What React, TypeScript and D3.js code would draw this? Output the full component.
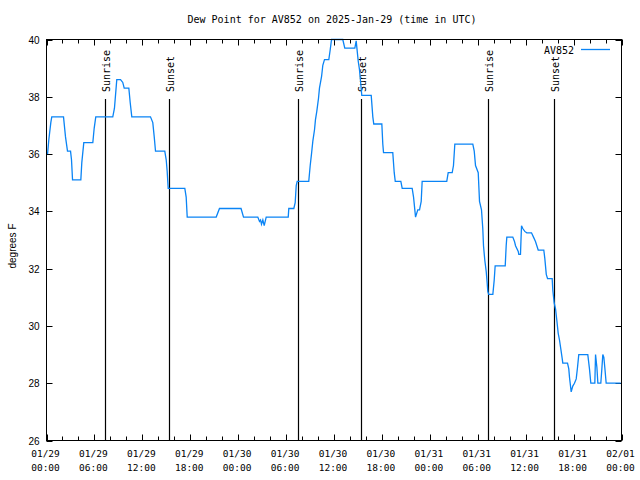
import React from "react";
import * as d3 from "d3";

// Data: hours after 2025-01-29 00:00 UTC, dew point in °F
const hours: number[] = [
  0.13, 0.29, 0.54, 0.66, 2.13, 2.38, 2.63, 3.01, 3.13, 3.26, 4.3, 4.42, 4.67, 5.8, 5.97, 6.17,
  8.3, 8.51, 8.8, 9.27, 9.55, 9.73, 10.31, 10.48, 10.68, 13.02, 13.31, 13.49, 13.65, 14.81,
  14.99, 15.11, 15.24, 17.32, 17.49, 17.62, 21.25, 21.66, 24.36, 24.67, 26.46, 26.67, 26.8,
  26.92, 27.09, 27.26, 27.51, 30.27, 30.34, 30.97, 31.14, 31.27, 31.39, 32.84, 33.02, 33.18,
  33.35, 33.56, 33.68, 33.85, 34.06, 34.18, 34.44, 34.6, 34.81, 35.35, 35.53, 35.69, 37.1,
  37.35, 38.61, 38.78, 38.85, 39.03, 39.19, 39.32, 39.48, 40.66, 40.86, 40.98, 41.99, 42.11,
  42.2, 43.36, 43.54, 43.67, 44.37, 44.54, 45.79, 45.96, 46.12, 46.21, 46.49, 46.71, 46.92,
  47.04, 50.12, 50.3, 50.8, 50.96, 51.13, 53.38, 53.56, 53.72, 54.06, 54.22, 54.47, 54.63,
  54.72, 54.88, 55.06, 55.18, 55.26, 55.38, 55.89, 56.06, 56.18, 57.44, 57.56, 57.64, 58.39,
  58.6, 58.73, 59.07, 59.14, 59.35, 59.48, 59.64, 59.89, 60.14, 60.73, 60.98, 61.23, 61.57,
  62.27, 62.4, 62.58, 62.74, 63.32, 63.4, 63.57, 63.74, 63.9, 64.07, 64.24, 64.4, 64.58,
  64.65, 65.24, 65.4, 65.49, 65.7, 65.9, 66.11, 66.33, 66.49, 66.65, 67.78, 67.99, 68.16,
  68.66, 68.75, 68.92, 69.04, 69.41, 69.54, 69.66, 69.79, 69.91, 70.08, 71.9,
];
const dewpoint: number[] = [
  36.0, 36.5, 37.1, 37.3, 37.3, 36.6, 36.1, 36.1, 35.8, 35.1, 35.1, 35.7, 36.4, 36.4, 36.9, 37.3,
  37.3, 37.6, 38.6, 38.6, 38.5, 38.3, 38.3, 37.8, 37.3, 37.3, 37.1, 36.6, 36.1, 36.1,
  35.8, 35.4, 34.8, 34.8, 34.5, 33.8, 33.8, 34.1, 34.1, 33.8, 33.8, 33.65, 33.7,
  33.55, 33.7, 33.5, 33.8, 33.8, 34.1, 34.1, 34.3, 34.9, 35.05, 35.05, 35.6, 36.0,
  36.45, 36.85, 37.2, 37.5, 37.95, 38.3, 38.7, 39.1, 39.3, 39.3, 39.65, 40.0, 40.0,
  39.7, 39.7, 39.95, 39.75, 39.25, 38.95, 38.55, 38.05, 38.05, 37.3, 37.05, 37.05, 36.35,
  36.05, 36.05, 35.35, 35.05, 35.05, 34.8, 34.8, 34.5, 34.05, 33.8, 34.05, 34.05, 34.35,
  35.05, 35.05, 35.35, 35.35, 35.6, 36.35, 36.35, 36.1, 35.6, 35.35, 34.35, 34.05, 33.4,
  32.8, 32.3, 31.9, 31.5, 31.2, 31.1, 31.1, 31.6, 32.1, 32.1, 32.8, 33.1, 33.1,
  32.95, 32.8, 32.6, 32.5, 32.5, 33.5, 33.4, 33.3, 33.25, 33.25, 33.1, 32.95, 32.65,
  32.65, 32.35, 31.8, 31.65, 31.65, 31.25, 30.8, 30.6, 30.2, 29.75, 29.5, 29.2, 28.85,
  28.7, 28.7, 28.5, 28.2, 27.7, 27.9, 28.0, 28.15, 28.55, 29.0, 29.0, 28.5, 28.0,
  28.0, 29.0, 28.55, 28.0, 28.0, 28.5, 29.0, 28.9, 28.55, 28.0, 28.0,
];

const sunEventHours: number[] = [7.36, 15.38, 31.45, 39.42, 55.32, 63.51];
const sunEventLabels: string[] = ["Sunrise", "Sunset", "Sunrise", "Sunset", "Sunrise", "Sunset"];

const yTickValues: number[] = [26, 28, 30, 32, 34, 36, 38, 40];
const titleText = "Dew Point for AV852 on 2025-Jan-29 (time in UTC)";
const seriesName = "AV852";
const yLabel = "degrees F";

const start = new Date(Date.UTC(2025, 0, 29, 0, 0));
const end = new Date(Date.UTC(2025, 1, 1, 0, 0));
const toDate = (h: number) => new Date(start.getTime() + h * 3600 * 1000);

export default function App() {
  const W = 640, H = 480;
  const L = 46.5, R = 621.5, T = 39.5, B = 440.5;
  const x = d3.scaleUtc().domain([start, end]).range([L, R]);
  const y = d3.scaleLinear().domain([26, 40]).range([B, T]);

  const pts: [Date, number][] = hours.map((h, i) => [toDate(h), dewpoint[i]]);
  const line = d3
    .line<[Date, number]>()
    .x((d) => x(d[0]))
    .y((d) => y(d[1]));

  const majorTicks = x.ticks(d3.utcHour.every(6)!);
  const minorTicks = x.ticks(d3.utcHour.every(2)!);
  const fmtDate = d3.utcFormat("%m/%d");
  const fmtTime = d3.utcFormat("%H:%M");

  const mono = "'DejaVu Sans Mono', 'Liberation Mono', monospace";
  const sans = "'Liberation Sans', Arial, sans-serif";

  return (
    <svg width={W} height={H} style={{ position: "absolute", left: 0, top: 0, background: "#fff" }}>
      <rect x={0} y={0} width={W} height={H} fill="#fff" />
      <text x={332} y={23} fontFamily={mono} fontSize={10} textAnchor="middle" fill="#000">
        {titleText}
      </text>

      {/* x ticks */}
      {minorTicks.map((t, i) => {
        const xx = Math.round(x(t)) + 0.5;
        const isMajor = t.getUTCHours() % 6 === 0;
        const len = isMajor ? 6 : 4;
        return (
          <g key={"xt" + i} stroke="#000" strokeWidth={1}>
            <line x1={xx} x2={xx} y1={B} y2={B - len} />
            <line x1={xx} x2={xx} y1={T} y2={T + len} />
          </g>
        );
      })}
      {majorTicks.map((t, i) => (
        <g key={"xl" + i}>
          <text x={x(t) - 1} y={456.5} fontFamily={mono} fontSize={9.5} textAnchor="middle" fill="#000">
            {fmtDate(t)}
          </text>
          <text x={x(t) - 1} y={471} fontFamily={mono} fontSize={9.5} textAnchor="middle" fill="#000">
            {fmtTime(t)}
          </text>
        </g>
      ))}

      {/* y ticks */}
      {yTickValues.map((v, i) => {
        const yy = Math.round(y(v)) + 0.5;
        return (
          <g key={"yt" + i}>
            <g stroke="#000" strokeWidth={1}>
              <line x1={L} x2={L + 6} y1={yy} y2={yy} />
              <line x1={R} x2={R - 6} y1={yy} y2={yy} />
            </g>
            <text x={39.5} y={yy + 3.6} fontFamily={sans} fontSize={10} textAnchor="end" fill="#000">
              {v}
            </text>
          </g>
        );
      })}

      <text
        transform={`translate(15.5,246) rotate(-90)`}
        fontFamily={sans}
        fontSize={10}
        textAnchor="middle"
        fill="#000"
      >
        {yLabel}
      </text>

      {/* sunrise / sunset */}
      {sunEventHours.map((h, i) => {
        const xx = Math.round(x(toDate(h))) + 0.5;
        return (
          <g key={"sun" + i}>
            <line x1={xx} x2={xx} y1={99} y2={B} stroke="#000" strokeWidth={1.2} />
            <text
              transform={`translate(${xx + 4.5},92) rotate(-90)`}
              fontFamily={mono}
              fontSize={10}
              textAnchor="start"
              fill="#000"
            >
              {sunEventLabels[i]}
            </text>
          </g>
        );
      })}

      {/* data line */}
      <path d={line(pts) || ""} fill="none" stroke="#0a84f5" strokeWidth={1.3} strokeLinejoin="miter" />

      {/* legend */}
      <text x={574} y={53.5} fontFamily={mono} fontSize={10} textAnchor="end" fill="#000">
        {seriesName}
      </text>
      <line x1={581} x2={610} y1={49.5} y2={49.5} stroke="#0a84f5" strokeWidth={1.3} />

      {/* frame */}
      <rect x={L} y={T} width={R - L} height={B - T} fill="none" stroke="#000" strokeWidth={1} />
    </svg>
  );
}
